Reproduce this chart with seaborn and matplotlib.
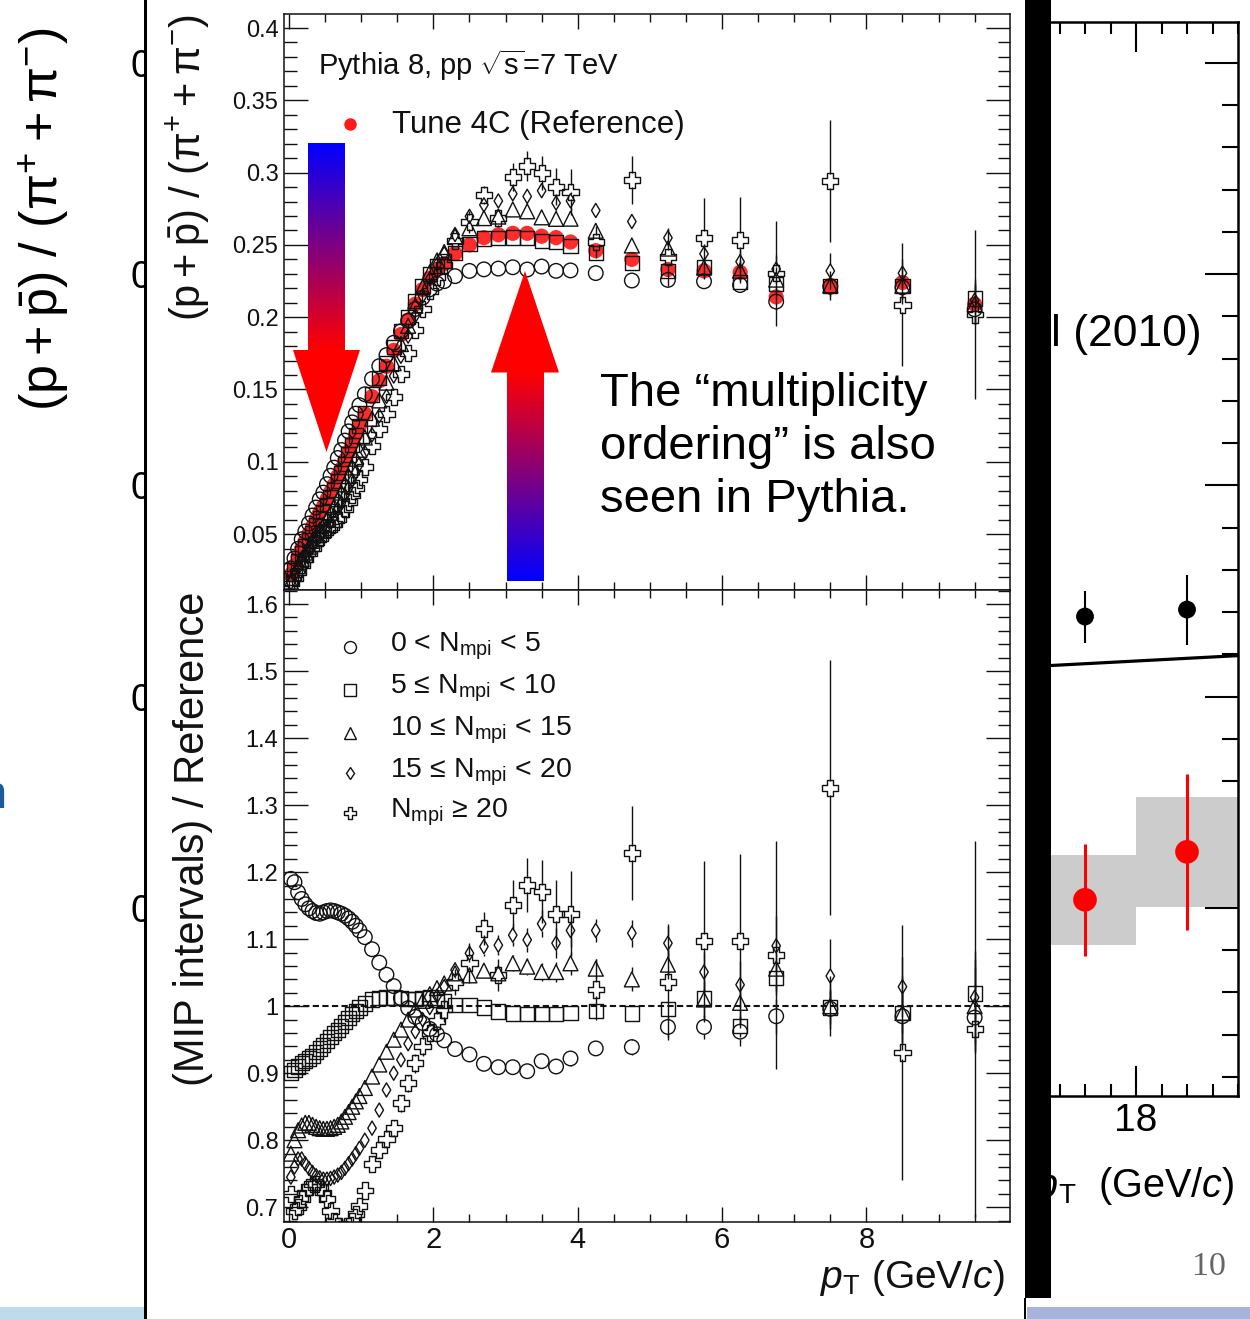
import numpy as np
import pandas as pd
import matplotlib
matplotlib.use("Agg")
import matplotlib.pyplot as plt
import seaborn as sns
from matplotlib.path import Path
from matplotlib.patches import Rectangle, Polygon
from matplotlib.colors import LinearSegmentedColormap
from matplotlib.ticker import MultipleLocator, FormatStrFormatter, NullFormatter, FixedLocator

sns.set_theme(style="ticks")
plt.rcParams["font.family"] = ["Liberation Sans", "DejaVu Sans"]
plt.rcParams["mathtext.fontset"] = "custom"
plt.rcParams["mathtext.rm"] = "Liberation Sans"
plt.rcParams["mathtext.it"] = "Liberation Sans:italic"
plt.rcParams["mathtext.bf"] = "Liberation Sans:bold"
plt.rcParams["mathtext.sf"] = "Liberation Sans"

# ---------------- Pythia 8 (pp, 7 TeV): (p+pbar)/(pi+ + pi-) vs pT ----------------
pt_centers = [0.025, 0.075, 0.125, 0.175, 0.225, 0.275, 0.325, 0.375, 0.425, 0.475,
              0.525, 0.575, 0.625, 0.675, 0.725, 0.775, 0.825, 0.875, 0.925, 0.975,
              1.05, 1.15, 1.25, 1.35, 1.45, 1.55, 1.65, 1.75, 1.85, 1.95, 2.05, 2.15,
              2.3, 2.5, 2.7, 2.9, 3.1, 3.3, 3.5, 3.7, 3.9,
              4.25, 4.75, 5.25, 5.75, 6.25, 6.75, 7.5, 8.5, 9.5]

# Tune 4C reference ratio
tune4c_ratio = [0.022, 0.028, 0.034, 0.040, 0.045, 0.050, 0.055, 0.060, 0.065, 0.069,
                0.074, 0.079, 0.084, 0.090, 0.095, 0.101, 0.107, 0.113, 0.119, 0.125,
                0.133, 0.145, 0.156, 0.166, 0.177, 0.188, 0.198, 0.209, 0.219, 0.227, 0.233, 0.237,
                0.244, 0.250, 0.255, 0.257, 0.258, 0.258, 0.256, 0.255, 0.252,
                0.246, 0.240, 0.233, 0.232, 0.231, 0.214, 0.222, 0.224, 0.209]

# MPI-interval ratio / reference
rel_mpi_0_5 = [1.190, 1.185, 1.170, 1.160, 1.152, 1.146, 1.142, 1.139, 1.138, 1.140,
               1.142, 1.143, 1.142, 1.140, 1.138, 1.135, 1.131, 1.126, 1.120, 1.113,
               1.103, 1.085, 1.065, 1.047, 1.030, 1.012, 0.997, 0.984, 0.975, 0.966, 0.958, 0.949,
               0.936, 0.928, 0.914, 0.909, 0.909, 0.903, 0.918, 0.910, 0.922,
               0.937, 0.939, 0.969, 0.969, 0.962, 0.985, 0.996, 0.985, 0.983]
rel_mpi_5_10 = [0.900, 0.905, 0.910, 0.915, 0.918, 0.922, 0.926, 0.932, 0.937, 0.942,
                0.948, 0.954, 0.960, 0.965, 0.970, 0.976, 0.982, 0.988, 0.993, 0.998,
                1.004, 1.010, 1.012, 1.013, 1.013, 1.012, 1.011, 1.011, 1.012, 1.013, 1.010, 1.008,
                1.002, 1.002, 0.998, 0.992, 0.989, 0.988, 0.988, 0.988, 0.990,
                0.993, 0.989, 0.996, 1.012, 0.970, 1.042, 0.998, 0.990, 1.019]
rel_mpi_10_15 = [0.780, 0.800, 0.815, 0.822, 0.826, 0.826, 0.823, 0.820, 0.818, 0.817,
                 0.817, 0.818, 0.820, 0.823, 0.828, 0.835, 0.842, 0.850, 0.858, 0.866,
                 0.878, 0.895, 0.913, 0.932, 0.950, 0.965, 0.980, 0.995, 1.008, 1.018, 1.027, 1.034,
                 1.049, 1.046, 1.053, 1.049, 1.064, 1.059, 1.051, 1.051, 1.064,
                 1.056, 1.040, 1.062, 1.010, 1.005, 1.056, 1.000, 0.990, 1.000]
rel_mpi_15_20 = [0.745, 0.760, 0.772, 0.772, 0.765, 0.758, 0.752, 0.747, 0.744, 0.742,
                 0.742, 0.743, 0.745, 0.748, 0.752, 0.758, 0.765, 0.772, 0.780, 0.788,
                 0.800, 0.818, 0.845, 0.875, 0.900, 0.920, 0.944, 0.962, 0.980, 0.998, 1.015, 1.029,
                 1.054, 1.079, 1.089, 1.091, 1.106, 1.099, 1.123, 1.094, 1.113,
                 1.113, 1.109, 1.094, 1.051, 1.032, 1.090, 1.045, 1.029, 1.013]
rel_mpi_20 = [0.720, 0.695, 0.700, 0.712, 0.722, 0.730, 0.735, 0.735, 0.730, 0.722,
              0.712, 0.695, 0.680, 0.672, 0.668, 0.668, 0.672, 0.679, 0.690, 0.702,
              0.725, 0.765, 0.785, 0.802, 0.818, 0.855, 0.885, 0.915, 0.940, 0.960, 0.978, 0.995,
              1.036, 1.064, 1.116, 1.046, 1.151, 1.181, 1.171, 1.138, 1.138,
              1.025, 1.229, 1.036, 1.097, 1.097, 1.076, 1.326, 0.931, 0.966]

err_mpi_0_5 = [0.003, 0.003, 0.003, 0.003, 0.003, 0.003, 0.003, 0.003, 0.003, 0.003,
               0.003, 0.003, 0.003, 0.003, 0.003, 0.003, 0.003, 0.003, 0.003, 0.003,
               0.003, 0.003, 0.003, 0.004, 0.004, 0.004, 0.004, 0.004, 0.004, 0.005, 0.005, 0.005,
               0.005, 0.006, 0.006, 0.007, 0.007, 0.008, 0.009, 0.010, 0.011,
               0.010, 0.012, 0.015, 0.018, 0.022, 0.026, 0.030, 0.038, 0.050]
err_mpi_5_10 = [0.002, 0.002, 0.002, 0.002, 0.002, 0.002, 0.002, 0.002, 0.002, 0.002,
                0.002, 0.002, 0.002, 0.002, 0.002, 0.002, 0.002, 0.002, 0.002, 0.002,
                0.002, 0.002, 0.002, 0.003, 0.003, 0.003, 0.003, 0.003, 0.003, 0.003, 0.003, 0.004,
                0.004, 0.004, 0.005, 0.005, 0.006, 0.006, 0.007, 0.007, 0.008,
                0.007, 0.009, 0.011, 0.013, 0.016, 0.020, 0.024, 0.030, 0.040]
err_mpi_10_15 = [0.004, 0.004, 0.004, 0.004, 0.004, 0.004, 0.004, 0.004, 0.004, 0.004,
                 0.004, 0.004, 0.004, 0.004, 0.004, 0.004, 0.004, 0.004, 0.004, 0.004,
                 0.004, 0.004, 0.005, 0.005, 0.005, 0.005, 0.006, 0.006, 0.006, 0.007, 0.007, 0.007,
                 0.008, 0.009, 0.010, 0.011, 0.012, 0.013, 0.014, 0.015, 0.017,
                 0.014, 0.018, 0.022, 0.027, 0.032, 0.040, 0.045, 0.055, 0.070]
err_mpi_15_20 = [0.006, 0.006, 0.006, 0.006, 0.006, 0.006, 0.006, 0.006, 0.006, 0.006,
                 0.006, 0.006, 0.006, 0.006, 0.006, 0.006, 0.006, 0.006, 0.006, 0.006,
                 0.006, 0.007, 0.007, 0.007, 0.008, 0.008, 0.008, 0.009, 0.009, 0.010, 0.010, 0.011,
                 0.012, 0.013, 0.014, 0.015, 0.016, 0.018, 0.020, 0.022, 0.024,
                 0.017, 0.020, 0.025, 0.030, 0.035, 0.045, 0.055, 0.045, 0.070]
err_mpi_20 = [0.010, 0.010, 0.010, 0.010, 0.010, 0.010, 0.010, 0.010, 0.010, 0.010,
              0.010, 0.010, 0.010, 0.010, 0.010, 0.010, 0.010, 0.010, 0.010, 0.010,
              0.010, 0.011, 0.011, 0.012, 0.012, 0.013, 0.013, 0.014, 0.015, 0.016, 0.017, 0.018,
              0.020, 0.030, 0.025, 0.024, 0.037, 0.040, 0.047, 0.050, 0.063,
              0.045, 0.070, 0.086, 0.120, 0.130, 0.170, 0.190, 0.190, 0.280]

mpi_labels = [r"0 < $\mathrm{N}_{\mathrm{mpi}}$ < 5",
              r"5 ≤ $\mathrm{N}_{\mathrm{mpi}}$ < 10",
              r"10 ≤ $\mathrm{N}_{\mathrm{mpi}}$ < 15",
              r"15 ≤ $\mathrm{N}_{\mathrm{mpi}}$ < 20",
              r"$\mathrm{N}_{\mathrm{mpi}}$ ≥ 20"]

# ---------------- measured ratio on the slide behind the inset ----------------
meas_pt = [17.0, 19.0]
meas_bin_width = [2.0, 2.0]
meas_black = [0.2379, 0.2412]
meas_black_err = [0.0123, 0.0166]
meas_red = [0.1038, 0.1265]
meas_red_stat = [0.0265, 0.0370]
meas_red_syst = [0.0213, 0.0260]
model_pt = [16.0, 20.0]
model_ratio = [0.2143, 0.2194]

table = pd.DataFrame({
    "pt": pt_centers, "ref": tune4c_ratio,
    "r0": rel_mpi_0_5, "r1": rel_mpi_5_10, "r2": rel_mpi_10_15, "r3": rel_mpi_15_20, "r4": rel_mpi_20,
    "e0": err_mpi_0_5, "e1": err_mpi_5_10, "e2": err_mpi_10_15, "e3": err_mpi_15_20, "e4": err_mpi_20,
})

INK = "#111111"
W, H = 1250, 1319


def box(x0, y0, x1, y1):
    return [x0 / W, 1 - y1 / H, (x1 - x0) / W, (y1 - y0) / H]


# open-cross marker (ROOT style 28)
a = 0.36
open_cross = Path([(-a, 1), (a, 1), (a, a), (1, a), (1, -a), (a, -a), (a, -1), (-a, -1),
                   (-a, -a), (-1, -a), (-1, a), (-a, a), (-a, 1)], closed=True)

marker_specs = [("o", 110), ("s", 105), ("^", 115), ("d", 52), (open_cross, 135)]


def draw_points(ax, x, y, e, marker, size, gap):
    x = np.asarray(x, float)
    y = np.asarray(y, float)
    e = np.asarray(e, float)
    show = e > gap
    if show.any():
        ax.vlines(x[show], y[show] + gap, y[show] + e[show], colors=INK, lw=1.0, zorder=3)
        ax.vlines(x[show], y[show] - e[show], y[show] - gap, colors=INK, lw=1.0, zorder=3)
    sns.scatterplot(x=x, y=y, marker=marker, s=size, color=INK, facecolor="none",
                    edgecolor=INK, linewidth=1.0, legend=False, ax=ax, zorder=3)


fig = plt.figure(figsize=(W / 100, H / 100), dpi=100)
fig.patch.set_facecolor("white")

# ---------------- slide chart (mostly covered) ----------------
ax_s = fig.add_axes(box(218, 22, 1238, 1096), zorder=0)
syst_lo = [r - s for r, s in zip(meas_red, meas_red_syst)]
syst_h = [2 * s for s in meas_red_syst]
ax_s.bar(meas_pt, syst_h, bottom=syst_lo, width=meas_bin_width, color="#cccccc", linewidth=0, zorder=1)
sns.lineplot(x=model_pt, y=model_ratio, color="black", linewidth=2.3, ax=ax_s, zorder=2)
ax_s.errorbar(meas_pt, meas_black, yerr=meas_black_err, fmt="none", ecolor="black",
              elinewidth=1.5, capsize=0, zorder=3)
sns.scatterplot(x=meas_pt, y=meas_black, color="black", s=165, edgecolor="none", linewidth=0,
                legend=False, ax=ax_s, zorder=4)
ax_s.errorbar(meas_pt, meas_red, yerr=meas_red_stat, fmt="none", ecolor="#ff0000",
              elinewidth=2.2, capsize=0, zorder=3)
sns.scatterplot(x=meas_pt, y=meas_red, color="#ff0000", s=290, edgecolor="none", linewidth=0,
                legend=False, ax=ax_s, zorder=4)
ax_s.set_xlim(0, 20)
ax_s.set_ylim(0.0109, 0.5194)
ax_s.xaxis.set_major_locator(FixedLocator([18]))
ax_s.xaxis.set_minor_locator(MultipleLocator(0.5))
ax_s.yaxis.set_major_locator(MultipleLocator(0.1))
ax_s.yaxis.set_minor_locator(MultipleLocator(0.02))
# only the leading digit of each y label shows beside the inset
ax_s.yaxis.set_major_formatter(FormatStrFormatter("%d"))
ax_s.tick_params(which="both", direction="in", top=True, right=True, bottom=True, left=True,
                 colors="black", width=1.5)
ax_s.tick_params(axis="x", which="major", length=21.6, labelsize=28, pad=5)
ax_s.tick_params(axis="x", which="minor", length=8.6)
ax_s.tick_params(axis="y", which="major", length=24, labelsize=27, pad=48)
ax_s.tick_params(axis="y", which="minor", length=11.5)
for sp in ax_s.spines.values():
    sp.set_linewidth(1.8)
    sp.set_color("black")
ax_s.set_ylabel(r"$(\mathrm{p} + \bar{\mathrm{p}})\ /\ (\mathrm{\pi}^{+} + \mathrm{\pi}^{-})$",
                fontsize=37.5, loc="top", color="black")
ax_s.yaxis.set_label_coords((71 - 218) / 1020, 1 - 6 / 1074)
ax_s.set_xlabel(r"$p_{\mathrm{T}}$  (GeV/$c$)", fontsize=28.5, loc="right", color="black")
ax_s.xaxis.set_label_coords((1234 - 218) / 1020, -(1165 - 1096) / 1074)
ax_s.text(16.33, 0.3659, "l (2010)", fontsize=32, ha="left", va="baseline", color="black")

# ---------------- slide furniture: inset panel, frame bars, footer ----------------
ax_ov = fig.add_axes([0, 0, 1, 1], zorder=1)
ax_ov.set_xlim(0, W)
ax_ov.set_ylim(H, 0)
ax_ov.axis("off")
ax_ov.add_patch(Rectangle((147, 0), 1025 - 147, H, color="white", lw=0))
ax_ov.add_patch(Rectangle((143.5, 0), 3.5, H, color="black", lw=0))
ax_ov.add_patch(Rectangle((1025, 0), 26, 1298, color="black", lw=0))
ax_ov.add_patch(Rectangle((1024, 1298), 2.2, H - 1298, color="black", lw=0))
ax_ov.add_patch(Rectangle((0, 1307), 143.5, 12, color="#bfdaea", lw=0))
ax_ov.add_patch(Rectangle((1027, 1307), W - 1027, 12, color="#a6b3da", lw=0))
ax_ov.text(1192, 1275, "10", fontsize=24.5, family=["Liberation Serif"], color="#666666",
           ha="left", va="baseline")
ax_ov.text(7, 808, "n", fontsize=34, color="#1b5a9c", ha="right", va="baseline")

# ---------------- Pythia panels ----------------
ax_top = fig.add_axes(box(284, 14, 1010, 590), zorder=2)
ax_bot = fig.add_axes(box(284, 590, 1010, 1222), zorder=2)

gap_top = 7 / 1446
gap_bot = 7 / 670
ref = table["ref"].to_numpy()
sns.scatterplot(data=table, x="pt", y="ref", color="#ff1a1a", s=120, edgecolor="none",
                linewidth=0, alpha=0.92, legend=False, ax=ax_top, zorder=2)
for k, (marker, size) in enumerate(marker_specs):
    ratio = table[f"r{k}"].to_numpy()
    err = table[f"e{k}"].to_numpy()
    draw_points(ax_top, table["pt"], ref * ratio, ref * err, marker, size, gap_top)
    draw_points(ax_bot, table["pt"], ratio, err, marker, size, gap_bot)

ax_bot.axhline(1.0, color=INK, lw=1.5, ls=(0, (3, 1.6)), zorder=2.5)

for ax in (ax_top, ax_bot):
    ax.set_xlim(-0.07, 9.99)
    ax.set_xlabel("")
    ax.set_ylabel("")
    ax.xaxis.set_major_locator(MultipleLocator(2))
    ax.xaxis.set_minor_locator(MultipleLocator(0.5))
    ax.xaxis.set_major_formatter(FormatStrFormatter("%g"))
    ax.yaxis.set_major_formatter(FormatStrFormatter("%g"))
    ax.tick_params(which="both", direction="in", top=True, right=True, bottom=True, left=True,
                   colors=INK, width=1.0)
    ax.tick_params(axis="x", which="major", length=11, labelsize=21, pad=3)
    ax.tick_params(axis="x", which="minor", length=6)
    ax.tick_params(axis="y", which="major", length=17, labelsize=17, pad=4)
    ax.tick_params(axis="y", which="minor", length=9)
    for sp in ax.spines.values():
        sp.set_linewidth(1.1)
        sp.set_color(INK)

ax_top.set_ylim(0.0113, 0.4097)
ax_top.yaxis.set_major_locator(MultipleLocator(0.05))
ax_top.yaxis.set_minor_locator(MultipleLocator(0.01))
ax_top.xaxis.set_major_formatter(NullFormatter())
ax_bot.set_ylim(0.678, 1.621)
ax_bot.yaxis.set_major_locator(MultipleLocator(0.1))
ax_bot.yaxis.set_minor_locator(MultipleLocator(0.02))

ax_top.set_ylabel(r"$(\mathrm{p} + \bar{\mathrm{p}})\ /\ (\mathrm{\pi}^{+} + \mathrm{\pi}^{-})$",
                  fontsize=30, loc="top", color=INK)
ax_top.yaxis.set_label_coords((212 - 284) / 726, 1.0)
ax_bot.set_ylabel("(MIP intervals) / Reference", fontsize=30, loc="top", color=INK)
ax_bot.yaxis.set_label_coords((213 - 284) / 726, 1 - 2 / 632)
ax_bot.set_xlabel(r"$p_{\mathrm{T}}$ (GeV/$c$)", fontsize=28, loc="right", color=INK)
ax_bot.xaxis.set_label_coords((1005 - 284) / 726, -(1258 - 1222) / 632)

# ---------------- legends, arrows and annotation ----------------
ax_fg = fig.add_axes([0, 0, 1, 1], zorder=3)
ax_fg.axis("off")
ramp_cmap = LinearSegmentedColormap.from_list("blue_red", ["#0000ff", "#ff0000"])
ramp = np.linspace(0, 1, 256).reshape(-1, 1)
ax_fg.imshow(ramp, cmap=ramp_cmap, extent=(308, 345, 350, 143), origin="upper",
             aspect="auto", interpolation="bilinear")
ax_fg.imshow(ramp[::-1], cmap=ramp_cmap, extent=(507, 544, 581, 372), origin="upper",
             aspect="auto", interpolation="bilinear")
ax_fg.add_patch(Polygon([(293, 350), (360, 350), (326.5, 452)], closed=True, color="#ff0000", lw=0))
ax_fg.add_patch(Polygon([(491, 372.5), (559, 372.5), (525, 271)], closed=True, color="#ff0000", lw=0))

for yb, line in zip([406, 459, 512], ["The \u201cmultiplicity", "ordering\u201d is also", "seen in Pythia."]):
    ax_fg.text(600, yb, line, fontsize=34, ha="left", va="baseline", color="black")

ax_fg.text(318, 75, r"Pythia 8, pp $\sqrt{\mathrm{s}}$=7 TeV", fontsize=21, ha="left",
           va="baseline", color=INK)
ax_fg.plot([350], [124], marker="o", ms=9, color="#ff1a1a", mec="none", ls="none")
ax_fg.text(392, 133, "Tune 4C (Reference)", fontsize=22.5, ha="left", va="baseline", color=INK)

legend_rows = [(647, 652), (690, 693), (733, 735), (773, 777), (813, 818)]
legend_marks = [("o", 8.6), ("s", 8.0), ("^", 8.6), ("d", 6.3), (open_cross, 9.0)]
for (ym, yb), (mk, ms), lab in zip(legend_rows, legend_marks, mpi_labels):
    ax_fg.plot([350], [ym], marker=mk, ms=ms, mfc="none", mec=INK, mew=1.0, ls="none")
    ax_fg.text(390, yb, lab, fontsize=20.5, ha="left", va="baseline", color=INK)

ax_fg.set_xlim(0, W)
ax_fg.set_ylim(H, 0)

fig.savefig("out.png", dpi=100)
